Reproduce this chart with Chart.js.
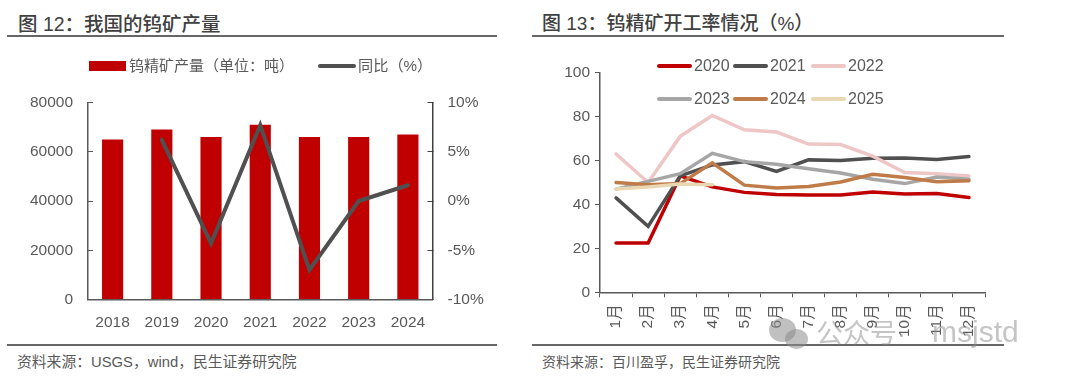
<!DOCTYPE html>
<html>
<head>
<meta charset="utf-8">
<title>图 12 图 13</title>
<script src="https://cdn.jsdelivr.net/npm/chart.js@4"></script>
<style>
html, body { margin: 0; padding: 0; background: #fff; }
body { position: relative; width: 1080px; height: 378px; overflow: hidden; font-family: "Liberation Sans", "Noto Sans CJK SC", sans-serif; color: #595959; }
.title { position: absolute; top: 11px; font-size: 19.5px; line-height: 26px; color: #404040; font-weight: 500; white-space: nowrap; }
.rule { position: absolute; height: 2px; background: #666; }
.source { position: absolute; top: 353px; font-size: 14px; line-height: 18px; white-space: nowrap; }
.box { position: absolute; }
.lg { position: absolute; white-space: nowrap; line-height: 20px; }
.sw { position: absolute; }
.mark { position: absolute; color: rgba(140,140,140,.5); white-space: nowrap; }
.bub { position: absolute; background: rgba(140,140,140,.55); border-radius: 50%; }
</style>
</head>
<body>
<div class="title" style="left:18px">图 12：我国的钨矿产量</div>
<div class="rule" style="left:7px;width:490px;top:35px"></div>
<div class="rule" style="left:7px;width:490px;top:344px"></div>
<div class="source" style="left:17px;font-size:14.8px">资料来源：USGS，wind，民生证券研究院</div>

<div class="title" style="left:542px;font-size:19px">图 13：钨精矿开工率情况（%）</div>
<div class="rule" style="left:532px;width:472px;top:35px"></div>
<div class="rule" style="left:532px;width:472px;top:344px"></div>
<div class="source" style="left:542px">资料来源：百川盈孚，民生证券研究院</div>

<div class="box" style="left:0;top:90px;width:530px;height:260px"><canvas id="outputChart"></canvas></div>
<div class="box" style="left:530px;top:60px;width:550px;height:290px"><canvas id="rateChart"></canvas></div>
<div id="legends"></div>

<div class="bub" style="left:769px;top:318px;width:27px;height:24px"></div>
<div class="bub" style="left:785px;top:329px;width:23px;height:20px"></div>
<div class="mark" style="left:816px;top:316px;font-size:27px;line-height:36px">公众号·</div>
<div class="mark" style="left:932px;top:312px;font-size:30px;line-height:40px">msjstd</div>

<script>
var years = ["2018", "2019", "2020", "2021", "2022", "2023", "2024"];
var output = [65000, 69000, 66000, 71000, 66000, 66000, 67000];
var yoy = [null, 6.2, -4.3, 7.7, -7, 0, 1.6];
var outputTicks = ["0", "20000", "40000", "60000", "80000"];
var yoyTicks = ["-10%", "-5%", "0%", "5%", "10%"];

var months = ["1月", "2月", "3月", "4月", "5月", "6月", "7月", "8月", "9月", "10月", "11月", "12月"];
var rate2020 = [22.5, 22.5, 53, 48, 45.5, 44.5, 44.3, 44.3, 45.7, 44.8, 45, 43.2];
var rate2021 = [43, 30, 53, 58, 59.5, 55, 60.3, 60, 61, 61.2, 60.5, 61.8];
var rate2022 = [63, 50, 71, 80.5, 74, 73, 67.5, 67.3, 62, 54.5, 54, 53];
var rate2023 = [47, 50.5, 54, 63.3, 59.5, 58.3, 56.3, 54.3, 51.5, 49.5, 52.5, 51.5];
var rate2024 = [50, 49, 49.5, 59, 48.8, 47.5, 48.2, 50.2, 53.7, 52.3, 50.3, 50.8];
var rate2025 = [47, 48, 49.3, 49];
var rateNames = ["2020", "2021", "2022", "2023", "2024", "2025"];

var font = '"Liberation Sans", "Noto Sans CJK SC", sans-serif';
var textColor = '#595959';
var red = '#C00000', dark = '#505050';
var rateColors = [red, dark, '#EEC6C6', '#A6A6A6', '#C07C48', '#E9D6B2'];
var rateSeries = [rate2020, rate2021, rate2022, rate2023, rate2024, rate2025];

// pin axis sizes so the plot area lands where the reference has it
function fixWidth(px) {
    return function (scale) { scale.width = px; scale.paddingTop = 0; scale.paddingBottom = 0; };
}
function fixHeight(px) {
    return function (scale) { scale.height = px; scale.paddingLeft = 0; scale.paddingRight = 0; };
}

// left chart
new Chart(document.getElementById('outputChart'), {
    type: 'bar',
    data: {
        labels: years,
        datasets: [{
            type: 'line',
            data: yoy,
            yAxisID: 'yRight',
            borderColor: dark,
            borderWidth: 4,
            borderCapStyle: 'round',
            borderJoinStyle: 'miter',
            pointRadius: 0,
            tension: 0,
            order: 1
        }, {
            data: output,
            yAxisID: 'yLeft',
            backgroundColor: red,
            barPercentage: 0.43,
            categoryPercentage: 1,
            order: 2
        }]
    },
    options: {
        responsive: true,
        maintainAspectRatio: false,
        animation: false,
        layout: { padding: { top: 12.5 } },
        plugins: { legend: { display: false }, tooltip: { enabled: false } },
        scales: {
            x: {
                grid: { display: true, drawOnChartArea: false, drawTicks: false },
                border: { color: '#595959', width: 1.5 },
                ticks: { color: textColor, font: { family: font, size: 15.5 }, padding: 14, maxRotation: 0 },
                afterFit: fixHeight(50.5)
            },
            yLeft: {
                position: 'left',
                min: 0,
                max: 80000,
                grid: { drawOnChartArea: false, tickLength: -5, tickColor: '#595959' },
                border: { color: '#595959', width: 1.5 },
                ticks: {
                    stepSize: 20000,
                    color: textColor,
                    font: { family: font, size: 15.5 },
                    padding: 20,
                    callback: function (v, i) { return outputTicks[i]; }
                },
                afterFit: fixWidth(88)
            },
            yRight: {
                position: 'right',
                min: -10,
                max: 10,
                grid: { drawOnChartArea: false, tickLength: -5, tickColor: '#404040' },
                border: { color: '#404040', width: 1.5 },
                ticks: {
                    stepSize: 5,
                    color: textColor,
                    font: { family: font, size: 15.5 },
                    padding: 20,
                    callback: function (v, i) { return yoyTicks[i]; }
                },
                afterFit: fixWidth(97.5)
            }
        }
    }
});

// right chart
new Chart(document.getElementById('rateChart'), {
    type: 'line',
    data: {
        labels: months,
        datasets: rateNames.map(function (name, i) {
            return {
                label: name,
                data: rateSeries[i],
                borderColor: rateColors[i],
                borderWidth: 3.5,
                borderCapStyle: 'round',
                borderJoinStyle: 'miter',
                pointRadius: 0,
                tension: 0,
                order: rateNames.length - i
            };
        })
    },
    options: {
        responsive: true,
        maintainAspectRatio: false,
        animation: false,
        layout: { padding: { top: 12.7, right: 95 } },
        plugins: { legend: { display: false }, tooltip: { enabled: false } },
        scales: {
            x: {
                offset: true,
                grid: { offset: true, drawOnChartArea: false, tickLength: 5, tickColor: '#595959' },
                border: { color: '#595959', width: 1.5 },
                ticks: { color: textColor, font: { family: font, size: 15.5 }, padding: 7, minRotation: 90, maxRotation: 90, autoSkip: false },
                afterFit: fixHeight(57.7)
            },
            y: {
                min: 0,
                max: 100,
                grid: { drawOnChartArea: false, tickLength: 5, tickColor: '#595959' },
                border: { color: '#595959', width: 1.5 },
                ticks: { stepSize: 20, color: textColor, font: { family: font, size: 15.5 }, padding: 5 },
                afterFit: fixWidth(70)
            }
        }
    }
});

// legends sit over the page, one row per entry
var legendBox = document.getElementById('legends');
function addEntry(text, x, y, w, h, color, textX, size) {
    var s = document.createElement('div');
    s.className = 'sw';
    s.style.cssText = 'left:' + x + 'px;top:' + (y - h / 2) + 'px;width:' + w + 'px;height:' + h + 'px;background:' + color + ';';
    legendBox.appendChild(s);
    var t = document.createElement('div');
    t.className = 'lg';
    t.textContent = text;
    t.style.cssText = 'left:' + textX + 'px;top:' + (y - 10) + 'px;font-size:' + size + 'px;';
    legendBox.appendChild(t);
    return s;
}
addEntry('钨精矿产量（单位：吨）', 89, 66, 37, 10, red, 129, 15);
addEntry('同比（%）', 318, 66, 38, 4, dark, 358, 15.2).style.borderRadius = '2px';
var legendX = [657, 733, 811];
var legendY = [66, 98.5];
rateNames.forEach(function (name, i) {
    var x = legendX[i % 3], y = legendY[Math.floor(i / 3)];
    addEntry(name, x, y, 35, 4, rateColors[i], x + 37, 16).style.borderRadius = '2px';
});
</script>
</body>
</html>
